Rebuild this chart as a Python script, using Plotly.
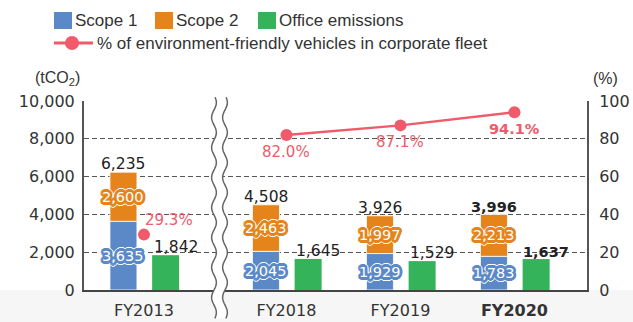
import math
import plotly.graph_objects as go

# ---- data ---------------------------------------------------------------
categories = ["FY2013", "FY2018", "FY2019", "FY2020"]
scope1 = [3635, 2045, 1929, 1783]
scope2 = [2600, 2463, 1997, 2213]
office = [1842, 1645, 1529, 1637]
eco_share = [29.3, 82.0, 87.1, 94.1]          # % of environment-friendly vehicles
emis_ticks = [0, 2000, 4000, 6000, 8000, 10000]
share_ticks = [0, 20, 40, 60, 80, 100]

totals = [a + b for a, b in zip(scope1, scope2)]

# ---- styling / layout ---------------------------------------------------
BLUE, ORANGE, GREEN, RED = "#5b89c8", "#e4841b", "#35b35a", "#f05a6a"
INK, GRID = "#333333", "#555555"
NUM_FONT = "DejaVu Sans"
TXT_FONT = "Liberation Sans"

W, H = 633, 322
ML, MR, MT, MB = 84, 46, 101, 32
PW, PH = W - ML - MR, H - MT - MB

group_x = [0.0, 1.25, 2.25, 3.25]     # FY2013 sits left of the axis break
x_lo = -0.526
x_hi = x_lo + PW / 114.0
bar_w = 0.237
stack_x = [g - 0.18 for g in group_x]
office_x = [g + 0.19 for g in group_x]
last = len(categories) - 1


def halo(color, r1=2.6, r2=3.8, n=18):
    """CSS text-shadow giving a coloured outline plus a thin white rim."""
    parts = []
    for r, c in ((r1, color), (r2, "#ffffff")):
        for k in range(n):
            a = 2 * math.pi * k / n
            parts.append(f"{r * math.cos(a):.2f}px {r * math.sin(a):.2f}px 0 {c}")
    return ", ".join(parts)


def px_x(x):  # pixel -> paper
    return (x - ML) / PW


def px_y(y):
    return (H - MB - y) / PH


fig = go.Figure()

fig.add_trace(go.Bar(x=stack_x, y=scope1, width=bar_w, name="Scope 1",
                     marker=dict(color=BLUE, line=dict(color="white", width=0.8))))
fig.add_trace(go.Bar(x=stack_x, y=scope2, base=scope1, width=bar_w, name="Scope 2",
                     marker=dict(color=ORANGE, line=dict(color="white", width=0.8))))
fig.add_trace(go.Bar(x=office_x, y=office, width=bar_w, name="Office emissions",
                     marker=dict(color=GREEN, line=dict(width=0))))

# share of eco vehicles: FY2013 stands alone, FY2018-2020 joined by a line
fig.add_trace(go.Scatter(x=group_x[:1], y=eco_share[:1], yaxis="y2", mode="markers",
                         marker=dict(color=RED, size=12), showlegend=False))
fig.add_trace(go.Scatter(x=group_x[1:], y=eco_share[1:], yaxis="y2", mode="lines+markers",
                         line=dict(color=RED, width=2.5), marker=dict(color=RED, size=12),
                         name="% of environment-friendly vehicles in corporate fleet"))

ann = []
for i in range(len(categories)):
    bold = i == last
    # totals above stacked bar
    ann.append(dict(x=stack_x[i], y=totals[i], xref="x", yref="y", yanchor="bottom",
                    yshift=-3, showarrow=False,
                    text=f"<b>{totals[i]:,}</b>" if bold else f"{totals[i]:,}",
                    font=dict(family=NUM_FONT, size=14.5 if bold else 15.5, color="#222")))
    # office emissions above green bar
    ann.append(dict(x=office_x[i], y=office[i], xref="x", yref="y", yanchor="bottom",
                    xshift=10, yshift=-3, showarrow=False,
                    text=f"<b>{office[i]:,}</b>" if bold else f"{office[i]:,}",
                    font=dict(family=NUM_FONT, size=14.5 if bold else 15.5, color="#222")))
    # segment labels inside the stack
    ann.append(dict(x=stack_x[i], y=scope1[i] / 2, xref="x", yref="y", showarrow=False,
                    yanchor="middle", text=f"{scope1[i]:,}",
                    font=dict(family=NUM_FONT, size=14.5, color="white", shadow=halo(BLUE))))
    ann.append(dict(x=stack_x[i], y=scope1[i] + scope2[i] / 2, xref="x", yref="y",
                    yanchor="middle", showarrow=False, text=f"{scope2[i]:,}",
                    font=dict(family=NUM_FONT, size=14.5, color="white", shadow=halo(ORANGE))))
    # vehicle share labels
    if i == 0:
        pos = dict(xshift=25, yshift=15)
    else:
        pos = dict(yshift=-17)
    ann.append(dict(x=group_x[i], y=eco_share[i], xref="x", yref="y2", showarrow=False,
                    yanchor="middle",
                    text=f"<b>{eco_share[i]:.1f}%</b>" if bold else f"{eco_share[i]:.1f}%",
                    font=dict(family=NUM_FONT, size=14.5 if bold else 15, color=RED), **pos))

# axis unit labels
ann.append(dict(x=px_x(57), y=px_y(78), xref="paper", yref="paper", showarrow=False,
                xanchor="center", yanchor="middle",
                text="(tCO<sub>2</sub>)", font=dict(family=TXT_FONT, size=16, color=INK)))
ann.append(dict(x=px_x(605), y=px_y(78), xref="paper", yref="paper", showarrow=False,
                xanchor="center", yanchor="middle",
                text="(%)", font=dict(family=TXT_FONT, size=16, color=INK)))

# legend (hand laid out in two rows)
shapes = []
legend_rows = [
    (54, "Scope 1", BLUE), (155, "Scope 2", ORANGE), (258, "Office emissions", GREEN),
]
for x0, label, col in legend_rows:
    shapes.append(dict(type="rect", xref="paper", yref="paper", layer="above",
                       x0=px_x(x0), x1=px_x(x0 + 18), y0=px_y(29), y1=px_y(12),
                       fillcolor=col, line=dict(width=0)))
    ann.append(dict(x=px_x(x0 + 19), y=px_y(20.5), xref="paper", yref="paper",
                    xanchor="left", yanchor="middle", showarrow=False, text=label,
                    font=dict(family=TXT_FONT, size=17, color=INK)))
shapes.append(dict(type="line", xref="paper", yref="paper", layer="above",
                   x0=px_x(54), x1=px_x(93), y0=px_y(43), y1=px_y(43),
                   line=dict(color=RED, width=3)))
shapes.append(dict(type="circle", xref="paper", yref="paper", layer="above",
                   x0=px_x(65), x1=px_x(79), y0=px_y(50), y1=px_y(36),
                   fillcolor=RED, line=dict(width=0)))
ann.append(dict(x=px_x(95), y=px_y(43.5), xref="paper", yref="paper", xanchor="left",
                yanchor="middle", showarrow=False,
                text="% of environment-friendly vehicles in corporate fleet",
                font=dict(family=TXT_FONT, size=17, color=INK)))

# light band under the category axis
shapes.append(dict(type="rect", xref="paper", yref="paper", layer="below",
                   x0=-ML / PW, x1=1 + MR / PW, y0=-MB / PH - 0.01, y1=0,
                   fillcolor="#f6f6f6", line=dict(width=0)))

# axis break between FY2013 and FY2018
brk = group_x[0] + 0.53 * (group_x[1] - group_x[0])
bx = (brk - x_lo) / (x_hi - x_lo)
half_gap = 5.5 / PW
amp = 2.4 / PW
wave = 30.0 / PH
ys = [1.02 - k * 0.01 for k in range(0, 121)]
ys = [y for y in ys if y >= -0.15]


def wavy(offset):
    return [(bx + offset + amp * math.sin(2 * math.pi * y / wave), y) for y in ys]


left_pts, right_pts = wavy(-half_gap), wavy(half_gap)
fill_path = "M" + " L".join(f"{x:.5f},{y:.5f}" for x, y in left_pts + right_pts[::-1]) + " Z"
shapes.append(dict(type="path", xref="paper", yref="paper", layer="above", path=fill_path,
                   fillcolor="white", line=dict(width=0)))
for pts in (left_pts, right_pts):
    shapes.append(dict(type="path", xref="paper", yref="paper", layer="above",
                       path="M" + " L".join(f"{x:.5f},{y:.5f}" for x, y in pts),
                       line=dict(color="#666666", width=1.5)))

ticktext = [f"<b>{c}</b>" if i == last else c for i, c in enumerate(categories)]

fig.update_layout(
    width=W, height=H,
    margin=dict(l=ML, r=MR, t=MT, b=MB, pad=0, autoexpand=False),
    paper_bgcolor="white", plot_bgcolor="white",
    barmode="overlay", showlegend=False,
    xaxis=dict(range=[x_lo, x_hi], tickvals=group_x, ticktext=ticktext, ticks="",
               showgrid=False, zeroline=False, showline=True, linecolor="#444",
               linewidth=2, tickfont=dict(family=NUM_FONT, size=16, color=INK),
               ticklabelstandoff=5, automargin=False, fixedrange=True),
    yaxis=dict(range=[0, 10000], tickvals=emis_ticks, tickformat=",", ticks="",
               showgrid=True, gridcolor=GRID, gridwidth=1, griddash="5px,3px",
               zeroline=False, showline=True, linecolor="#555", linewidth=2,
               tickfont=dict(family=NUM_FONT, size=16, color=INK),
               ticklabelstandoff=4, automargin=False, fixedrange=True),
    yaxis2=dict(range=[0, 100], tickvals=share_ticks, overlaying="y", side="right",
                ticks="", showgrid=False, zeroline=False, showline=True,
                linecolor="#555", linewidth=2,
                tickfont=dict(family=NUM_FONT, size=16, color=INK),
                ticklabelstandoff=7, automargin=False, fixedrange=True),
    annotations=ann, shapes=shapes,
)

fig.write_html("out.html", config={"displayModeBar": False})
